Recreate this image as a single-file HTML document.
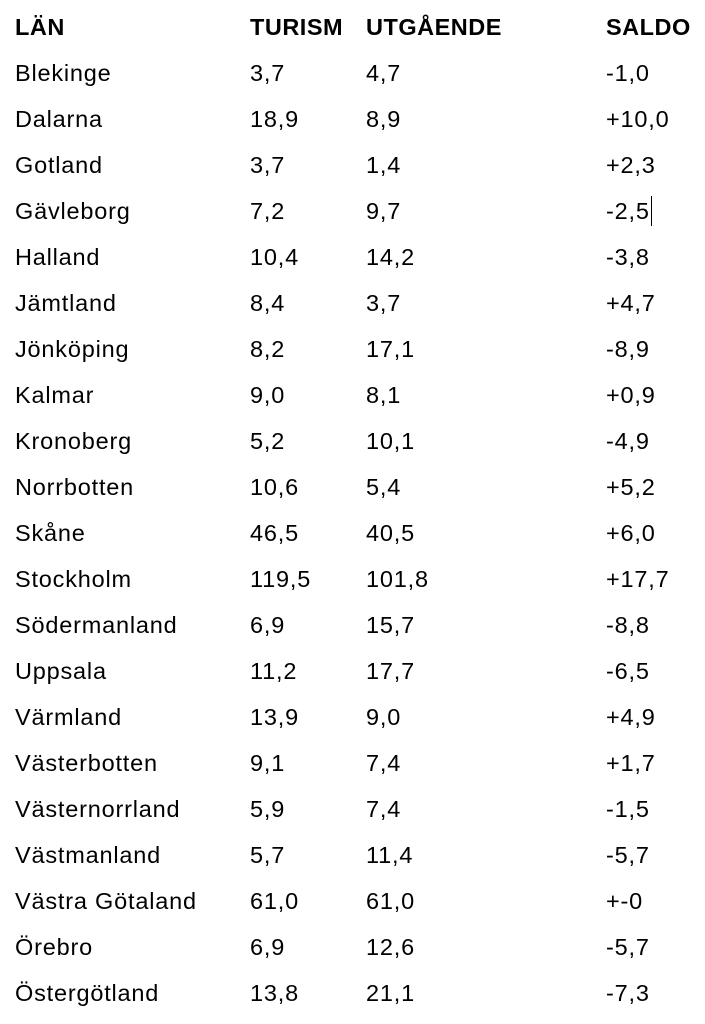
<!DOCTYPE html>
<html><head><meta charset="utf-8"><style>
body{margin:0;width:705px;height:1024px;background:#fff;position:relative;font-family:"Liberation Sans",Arial,sans-serif;color:#000;overflow:hidden}
.r{position:absolute;left:0;width:705px;height:30px;font-size:23.5px;line-height:30px;letter-spacing:0.8px}
.r span{position:absolute;white-space:nowrap}
.h{font-weight:bold;letter-spacing:0.5px}
.a{left:15px}.b{left:250px}.c{left:366px}.d{left:606px}
.cur{position:absolute;left:651px;top:196px;width:1px;height:30px;background:#000}
</style></head><body>
<div class="r h" style="top:12px"><span class="a">LÄN</span><span class="b">TURISM</span><span class="c">UTGÅENDE</span><span class="d">SALDO</span></div>
<div class="r" style="top:58px"><span class="a">Blekinge</span><span class="b">3,7</span><span class="c">4,7</span><span class="d">-1,0</span></div>
<div class="r" style="top:104px"><span class="a">Dalarna</span><span class="b">18,9</span><span class="c">8,9</span><span class="d">+10,0</span></div>
<div class="r" style="top:150px"><span class="a">Gotland</span><span class="b">3,7</span><span class="c">1,4</span><span class="d">+2,3</span></div>
<div class="r" style="top:196px"><span class="a">Gävleborg</span><span class="b">7,2</span><span class="c">9,7</span><span class="d">-2,5</span></div>
<div class="cur"></div>
<div class="r" style="top:242px"><span class="a">Halland</span><span class="b">10,4</span><span class="c">14,2</span><span class="d">-3,8</span></div>
<div class="r" style="top:288px"><span class="a">Jämtland</span><span class="b">8,4</span><span class="c">3,7</span><span class="d">+4,7</span></div>
<div class="r" style="top:334px"><span class="a">Jönköping</span><span class="b">8,2</span><span class="c">17,1</span><span class="d">-8,9</span></div>
<div class="r" style="top:380px"><span class="a">Kalmar</span><span class="b">9,0</span><span class="c">8,1</span><span class="d">+0,9</span></div>
<div class="r" style="top:426px"><span class="a">Kronoberg</span><span class="b">5,2</span><span class="c">10,1</span><span class="d">-4,9</span></div>
<div class="r" style="top:472px"><span class="a">Norrbotten</span><span class="b">10,6</span><span class="c">5,4</span><span class="d">+5,2</span></div>
<div class="r" style="top:518px"><span class="a">Skåne</span><span class="b">46,5</span><span class="c">40,5</span><span class="d">+6,0</span></div>
<div class="r" style="top:564px"><span class="a">Stockholm</span><span class="b">119,5</span><span class="c">101,8</span><span class="d">+17,7</span></div>
<div class="r" style="top:610px"><span class="a">Södermanland</span><span class="b">6,9</span><span class="c">15,7</span><span class="d">-8,8</span></div>
<div class="r" style="top:656px"><span class="a">Uppsala</span><span class="b">11,2</span><span class="c">17,7</span><span class="d">-6,5</span></div>
<div class="r" style="top:702px"><span class="a">Värmland</span><span class="b">13,9</span><span class="c">9,0</span><span class="d">+4,9</span></div>
<div class="r" style="top:748px"><span class="a">Västerbotten</span><span class="b">9,1</span><span class="c">7,4</span><span class="d">+1,7</span></div>
<div class="r" style="top:794px"><span class="a">Västernorrland</span><span class="b">5,9</span><span class="c">7,4</span><span class="d">-1,5</span></div>
<div class="r" style="top:840px"><span class="a">Västmanland</span><span class="b">5,7</span><span class="c">11,4</span><span class="d">-5,7</span></div>
<div class="r" style="top:886px"><span class="a">Västra Götaland</span><span class="b">61,0</span><span class="c">61,0</span><span class="d">+-0</span></div>
<div class="r" style="top:932px"><span class="a">Örebro</span><span class="b">6,9</span><span class="c">12,6</span><span class="d">-5,7</span></div>
<div class="r" style="top:978px"><span class="a">Östergötland</span><span class="b">13,8</span><span class="c">21,1</span><span class="d">-7,3</span></div>
</body></html>
